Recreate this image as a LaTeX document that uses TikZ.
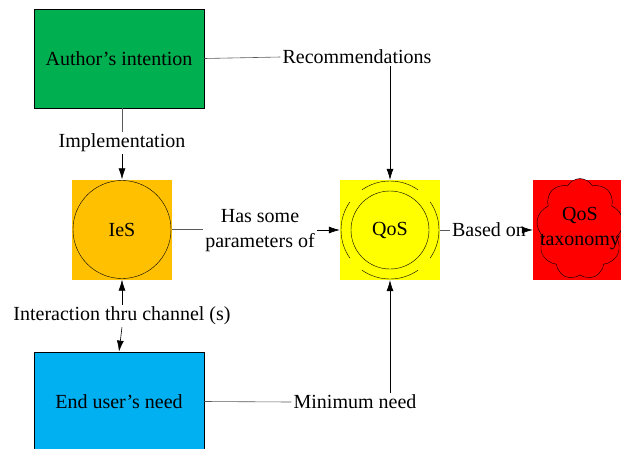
\documentclass[tikz,border=0pt]{standalone}
\usepackage{fontspec}
\setmainfont{Liberation Serif}
\usetikzlibrary{positioning, shapes.symbols, arrows.meta}

\definecolor{authgreen}{RGB}{0,176,80}
\definecolor{iesorange}{RGB}{255,192,0}
\definecolor{qosyellow}{RGB}{255,255,0}
\definecolor{taxred}{RGB}{255,0,0}
\definecolor{userblue}{RGB}{0,176,240}

\begin{document}
\begin{tikzpicture}[x=1pt, y=-1pt,
        every node/.style={font=\fontsize{20}{25}\selectfont},
        box/.style={rectangle, minimum width=170pt, minimum height=99pt, draw=black, line width=0.8pt},
        sq/.style={rectangle, minimum size=100pt, inner sep=0pt},
        lbl/.style={inner sep=2pt, align=center},
        link/.style={draw=black!65, line width=0.6pt},
        arr/.style={draw=black, line width=0.6pt, -{Latex[length=11pt, width=7pt]}}]
  \clip (0,0) rectangle (621,448);
  % boxes
  \node[box, fill=authgreen] (author) at (119,58.5) {Author’s intention};
  \node[box, fill=userblue] (user) at (119,401.5) {End user’s need};
  \node[sq, fill=iesorange] (ies) at (122,229.5) {IeS};
  \node[sq, fill=qosyellow] (qos) at (390,230) {QoS};
  \node[sq, fill=taxred] (taxbox) at (583,230) {};
  \node[cloud, draw, fill=taxred, cloud puffs=9, cloud puff arc=120, aspect=0.8,
        inner sep=-14pt, align=center] (tax) at (580,229) {QoS\\taxonomy};
  \draw (ies.center) circle[radius=49pt];
  \draw (qos.center) circle[radius=39pt];
  \foreach \a in {0,90,180,270}
    \draw ([shift={(\a-35:49pt)}]qos.center) arc[start angle=\a-35, end angle=\a+35, radius=49pt];
  % labels
  \node[lbl] (rec) at (357,57) {Recommendations};
  \node[lbl] (impl) at (122,143) {Implementation};
  \node[lbl] (has) at (260,231) {Has some\\parameters of};
  \node[lbl] (based) at (489,230) {Based on};
  \node[lbl] (inter) at (122,316) {Interaction thru channel (s)};
  \node[lbl] (minneed) at (355,402) {Minimum need};
  % connectors
  \draw[link] (author.east) -- (rec.west);
  \draw[arr] (rec.south -| qos.north) -- (qos.north);
  \draw[link] (impl.north |- author.south) -- (impl.north);
  \draw[arr] (impl.south) -- (ies.north);
  \draw[link] (ies.east) -- (ies.east -| has.west);
  \draw[arr] (has.east |- qos.west) -- (qos.west);
  \draw[link] (qos.east) -- (based.west);
  \draw[arr] (based.east) -- (taxbox.west);
  \draw[arr] (inter.north) -- (ies.south);
  \draw[arr] (inter.south) -- (user.north);
  \draw[link] (user.east) -- (minneed.west);
  \draw[arr] (minneed.north -| qos.south) -- (qos.south);
\end{tikzpicture}
\end{document}
